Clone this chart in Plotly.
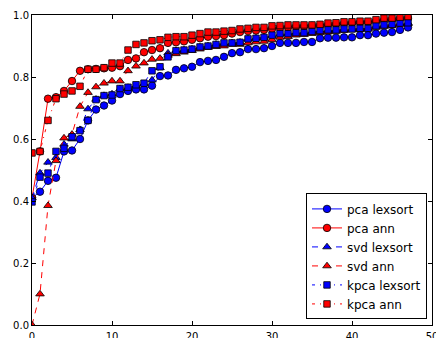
import plotly.graph_objects as go

x = list(range(48))

pca_lexsort = [0.41, 0.43, 0.465, 0.475, 0.56, 0.563, 0.60, 0.66, 0.695, 0.708,
               0.724, 0.745, 0.755, 0.76, 0.76, 0.772, 0.803, 0.805, 0.823, 0.828,
               0.833, 0.848, 0.852, 0.855, 0.865, 0.877, 0.88, 0.89, 0.89, 0.893,
               0.90, 0.91, 0.91, 0.91, 0.913, 0.913, 0.925, 0.927, 0.927, 0.928,
               0.928, 0.935, 0.935, 0.94, 0.943, 0.945, 0.952, 0.96]

pca_ann = [0.41, 0.56, 0.73, 0.735, 0.755, 0.787, 0.82, 0.825, 0.826, 0.828,
           0.83, 0.835, 0.855, 0.86, 0.88, 0.887, 0.893, 0.91, 0.912, 0.915,
           0.92, 0.925, 0.93, 0.932, 0.935, 0.94, 0.945, 0.948, 0.95, 0.952,
           0.955, 0.958, 0.96, 0.962, 0.963, 0.965, 0.966, 0.968, 0.97, 0.972,
           0.974, 0.976, 0.977, 0.98, 0.983, 0.985, 0.988, 0.99]

svd_lexsort = [0.41, 0.49, 0.525, 0.54, 0.583, 0.60, 0.63, 0.697, 0.728, 0.74,
               0.745, 0.762, 0.766, 0.772, 0.778, 0.79, 0.83, 0.877, 0.885, 0.887,
               0.89, 0.896, 0.90, 0.905, 0.908, 0.91, 0.912, 0.922, 0.925, 0.927,
               0.933, 0.938, 0.94, 0.942, 0.943, 0.946, 0.949, 0.951, 0.952, 0.954,
               0.955, 0.956, 0.957, 0.964, 0.967, 0.969, 0.973, 0.975]

svd_ann = [0.0, 0.10, 0.385, 0.53, 0.603, 0.615, 0.705, 0.75, 0.768, 0.78,
           0.787, 0.787, 0.82, 0.835, 0.845, 0.857, 0.86, 0.87, 0.875, 0.88,
           0.885, 0.89, 0.895, 0.898, 0.90, 0.905, 0.905, 0.91, 0.913, 0.915,
           0.92, 0.928, 0.93, 0.935, 0.937, 0.94, 0.943, 0.945, 0.947, 0.95,
           0.952, 0.953, 0.955, 0.96, 0.963, 0.965, 0.97, 0.972]

kpca_lexsort = [0.397, 0.477, 0.49, 0.56, 0.57, 0.607, 0.627, 0.66, 0.727, 0.74,
                0.742, 0.763, 0.767, 0.775, 0.78, 0.82, 0.833, 0.865, 0.885, 0.887,
                0.89, 0.897, 0.90, 0.905, 0.91, 0.91, 0.912, 0.923, 0.925, 0.928,
                0.935, 0.94, 0.94, 0.943, 0.943, 0.947, 0.95, 0.952, 0.952, 0.955,
                0.955, 0.957, 0.957, 0.965, 0.968, 0.97, 0.974, 0.975]

kpca_ann = [0.555, 0.56, 0.66, 0.73, 0.745, 0.755, 0.77, 0.825, 0.825, 0.83,
            0.845, 0.845, 0.887, 0.905, 0.91, 0.917, 0.92, 0.928, 0.93, 0.93,
            0.935, 0.94, 0.945, 0.945, 0.948, 0.95, 0.955, 0.957, 0.96, 0.96,
            0.965, 0.966, 0.968, 0.968, 0.968, 0.968, 0.97, 0.974, 0.975, 0.978,
            0.978, 0.98, 0.98, 0.985, 0.99, 0.99, 0.993, 0.995]

x_ticks = [0, 10, 20, 30, 40, 50]
y_ticks = [0.0, 0.2, 0.4, 0.6, 0.8, 1.0]

series = [
    ("pca lexsort", pca_lexsort, "#0000ff", "circle", "solid", 7.5),
    ("pca ann", pca_ann, "#ff0000", "circle", "solid", 7.5),
    ("svd lexsort", svd_lexsort, "#0000ff", "triangle-up", "6px,6px", 7.5),
    ("svd ann", svd_ann, "#ff0000", "triangle-up", "6px,6px", 7.5),
    ("kpca lexsort", kpca_lexsort, "#0000ff", "square", "3px,5px,1px,5px", 6.5),
    ("kpca ann", kpca_ann, "#ff0000", "square", "3px,5px,1px,5px", 6.5),
]

fig = go.Figure()
for name, ys, color, sym, dash, size in series:
    fig.add_trace(go.Scatter(
        x=x, y=ys, name=name, mode="lines+markers",
        line=dict(color=color, width=1, dash=dash),
        marker=dict(symbol=sym, size=size, color=color,
                    line=dict(color="black", width=0.8)),
    ))

axis_common = dict(
    showgrid=False, zeroline=False, showline=True, linecolor="black",
    linewidth=1, mirror="ticks", ticks="inside", ticklen=4,
    tickcolor="black", tickwidth=1,
    tickfont=dict(family="DejaVu Sans", size=10, color="black"),
    ticklabeloverflow="allow", automargin=False,
)

fig.update_layout(
    width=436, height=338,
    margin=dict(l=32, r=4, t=15, b=13, autoexpand=False),
    paper_bgcolor="white", plot_bgcolor="white",
    xaxis=dict(range=[0, 50], tickvals=x_ticks, ticktext=[str(t) for t in x_ticks],
               ticklabelstandoff=2, **axis_common),
    yaxis=dict(range=[0, 1], tickvals=y_ticks, ticktext=[f"{t:.1f}" for t in y_ticks],
               **axis_common),
    legend=dict(
        x=0.9875, y=0.018, xanchor="right", yanchor="bottom",
        bgcolor="white", bordercolor="black", borderwidth=1,
        font=dict(family="DejaVu Sans", size=12, color="black"),
        tracegroupgap=0, itemwidth=30,
    ),
    showlegend=True,
)

fig.write_html("out.html")
